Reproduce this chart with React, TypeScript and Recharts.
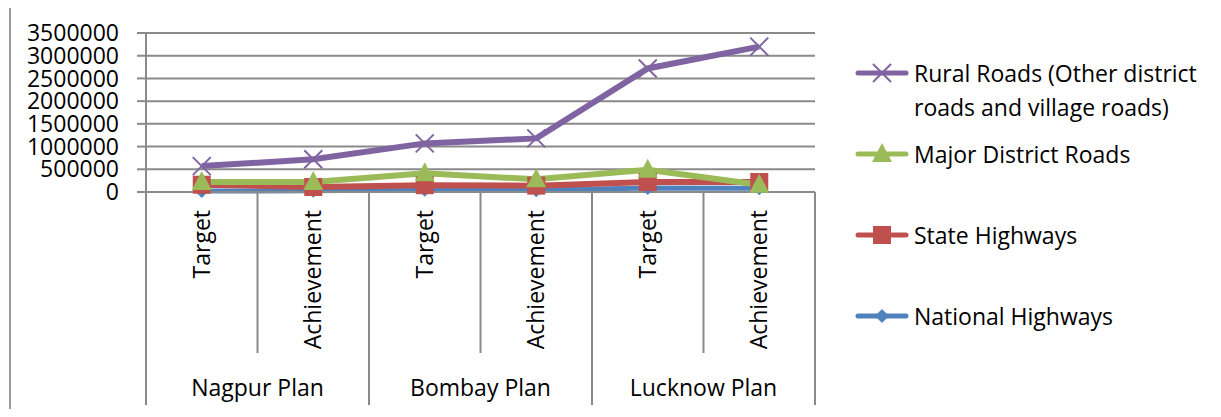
import React from 'react';
import { LineChart, Line, XAxis, YAxis, CartesianGrid } from 'recharts';

const subLabels = ['Target', 'Achievement', 'Target', 'Achievement', 'Target', 'Achievement'];
const planLabels = ['Nagpur Plan', 'Nagpur Plan', 'Bombay Plan', 'Bombay Plan', 'Lucknow Plan', 'Lucknow Plan'];

const nationalHighways = [20000, 25000, 50000, 40000, 90000, 80000];
const stateHighways = [160000, 110000, 150000, 140000, 220000, 220000];
const majorDistrictRoads = [220000, 220000, 410000, 280000, 490000, 160000];
const ruralRoads = [570000, 720000, 1070000, 1180000, 2720000, 3200000];

const yTicks = [0, 500000, 1000000, 1500000, 2000000, 2500000, 3000000, 3500000];

const data = subLabels.map((sub, i) => ({
  sub,
  plan: planLabels[i],
  national: nationalHighways[i],
  state: stateHighways[i],
  major: majorDistrictRoads[i],
  rural: ruralRoads[i],
}));

const FONT = '"Open Sans", sans-serif';
const FONT_SIZE = 23;
const GRID = '#8a8a8a';

const W = 1221;
const H = 417;
const PLOT_LEFT = 146;
const PLOT_RIGHT = 815;
const PLOT_TOP = 33;
const PLOT_BOTTOM = 192;
const PLOT_W = PLOT_RIGHT - PLOT_LEFT;
const HALF = PLOT_W / (subLabels.length * 2);

const COLORS = {
  national: '#4F81BD',
  state: '#C0504D',
  major: '#9BBB59',
  rural: '#8064A2',
};

// drawn bottom to top; legend lists them the other way round
const series = [
  { key: 'national', name: 'National Highways', width: 5 },
  { key: 'state', name: 'State Highways', width: 6 },
  { key: 'major', name: 'Major District Roads', width: 6 },
  { key: 'rural', name: 'Rural Roads (Other district roads and village roads)', width: 6 },
];

const Marker = ({ kind, cx, cy }: { kind: string; cx: number; cy: number }) => {
  if (kind === 'national') {
    const r = 7;
    return <polygon points={`${cx},${cy - r} ${cx + r},${cy} ${cx},${cy + r} ${cx - r},${cy}`} fill={COLORS.national} />;
  }
  if (kind === 'state') {
    return <rect x={cx - 9} y={cy - 9} width={18} height={18} fill={COLORS.state} />;
  }
  if (kind === 'major') {
    return <polygon points={`${cx},${cy - 11} ${cx + 10},${cy + 8} ${cx - 10},${cy + 8}`} fill={COLORS.major} />;
  }
  return (
    <g stroke={COLORS.rural} strokeWidth={2}>
      <line x1={cx - 9} y1={cy - 9} x2={cx + 9} y2={cy + 9} />
      <line x1={cx - 9} y1={cy + 9} x2={cx + 9} y2={cy - 9} />
    </g>
  );
};

const makeDot = (kind: string) => (p: any) => (
  <Marker key={`${kind}-${p.index}`} kind={kind} cx={p.cx} cy={p.cy} />
);

const CategoryTick = (props: any) => {
  const { x, payload } = props;
  const i = props.index ?? payload.index;
  const groupStart = i % 2 === 0;
  const last = i === subLabels.length - 1;
  return (
    <g>
      <line x1={x - HALF} x2={x - HALF} y1={PLOT_BOTTOM} y2={groupStart ? 405 : 353} stroke={GRID} strokeWidth={2} />
      {last && <line x1={x + HALF} x2={x + HALF} y1={PLOT_BOTTOM} y2={405} stroke={GRID} strokeWidth={2} />}
      <text
        x={x}
        y={210}
        dy="0.35em"
        textAnchor="end"
        transform={`rotate(-90, ${x}, 210)`}
        fontFamily={FONT}
        fontSize={FONT_SIZE}
        fill="#000"
      >
        {payload.value}
      </text>
      {groupStart && (
        <text x={x + HALF} y={388} dy="0.35em" textAnchor="middle" fontFamily={FONT} fontSize={FONT_SIZE} fill="#000">
          {planLabels[i]}
        </text>
      )}
    </g>
  );
};

const ChartLegend = () => (
  <div
    style={{
      position: 'absolute',
      left: 855,
      top: 56,
      width: 360,
      fontFamily: FONT,
      fontSize: FONT_SIZE,
      lineHeight: '34px',
      color: '#000',
    }}
  >
    {[...series].reverse().map((s) => (
      <div key={s.key} style={{ display: 'flex', alignItems: 'flex-start', height: 81 }}>
        <svg width={54} height={34} style={{ flex: 'none' }}>
          <line x1={3} x2={51} y1={17} y2={17} stroke={COLORS[s.key as keyof typeof COLORS]} strokeWidth={5} strokeLinecap="round" />
          <Marker kind={s.key} cx={27} cy={17} />
        </svg>
        <div style={{ marginLeft: 5, width: 300 }}>{s.name}</div>
      </div>
    ))}
  </div>
);

export default function App() {
  return (
    <div style={{ position: 'relative', margin: -8, width: W, height: H, overflow: 'hidden', background: '#fff' }}>
      <div
        style={{
          position: 'absolute',
          left: 9,
          top: 3,
          width: W,
          height: H + 20,
          borderLeft: '2px solid #9a9a9a',
          borderTop: '2px solid #9a9a9a',
        }}
      />
      <div style={{ position: 'absolute', left: 0, top: 0 }}>
        <LineChart
          width={W}
          height={H}
          data={data}
          margin={{ top: PLOT_TOP, right: W - PLOT_RIGHT, left: 0, bottom: 0 }}
        >
          <CartesianGrid horizontal vertical={false} stroke={GRID} strokeWidth={2} />
          <XAxis
            dataKey="sub"
            interval={0}
            height={H - PLOT_BOTTOM}
            padding={{ left: HALF, right: HALF }}
            axisLine={{ stroke: GRID, strokeWidth: 2 }}
            tickLine={false}
            tickSize={0}
            tickMargin={0}
            tick={<CategoryTick />}
          />
          <YAxis
            width={PLOT_LEFT}
            domain={[0, 3500000]}
            ticks={yTicks}
            interval={0}
            tickFormatter={(v) => String(v)}
            axisLine={{ stroke: GRID, strokeWidth: 2 }}
            tickLine={{ stroke: GRID, strokeWidth: 2 }}
            tickSize={9}
            tickMargin={18}
            tick={{ fontFamily: FONT, fontSize: FONT_SIZE, fill: '#000' }}
          />
          {series.map((s) => (
            <Line
              key={s.key}
              type="linear"
              dataKey={s.key}
              name={s.name}
              stroke={COLORS[s.key as keyof typeof COLORS]}
              strokeWidth={s.width}
              dot={makeDot(s.key)}
              activeDot={false}
              isAnimationActive={false}
            />
          ))}
        </LineChart>
      </div>
      <ChartLegend />
    </div>
  );
}
